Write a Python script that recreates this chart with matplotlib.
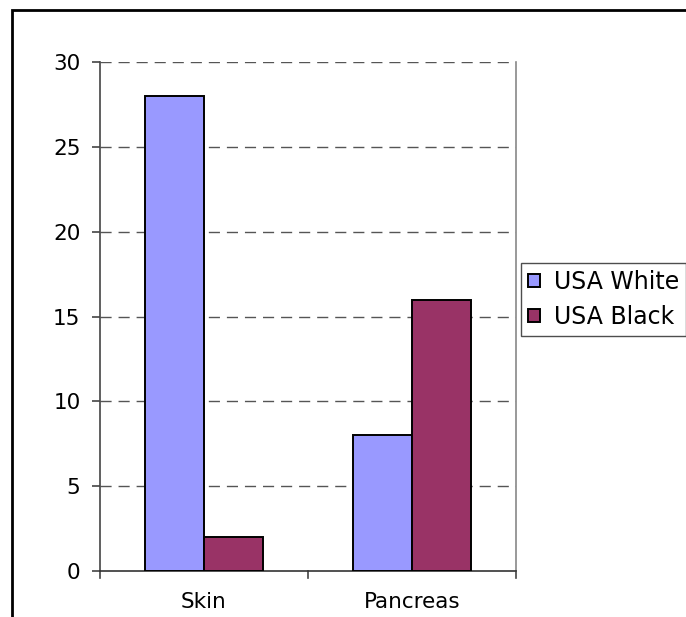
import matplotlib
matplotlib.use("Agg")
import matplotlib.pyplot as plt
from matplotlib.patches import Rectangle
import numpy as np

categories = ["Skin", "Pancreas"]
series_names = ["USA White", "USA Black"]
usa_white = [28, 8]
usa_black = [2, 16]
colors = ["#9999FF", "#993366"]
y_ticks = [0, 5, 10, 15, 20, 25, 30]

plt.rcParams["font.family"] = ["DejaVu Sans"]
FS = 15.5

W, H = 686, 617
fig = plt.figure(figsize=(W / 100, H / 100), dpi=100)
ax = fig.add_axes([100 / W, 1 - 571 / H, 416 / W, 509 / H])

x = np.arange(len(categories))
bw = 0.284
for i, (vals, name) in enumerate(zip([usa_white, usa_black], series_names)):
    ax.bar(x + (i - 0.5) * bw, vals, width=bw, color=colors[i],
           edgecolor="black", linewidth=1.4, label=name, zorder=3)

ax.set_xlim(-0.5, len(categories) - 0.5)
ax.set_ylim(0, 30)
ax.set_yticks(y_ticks)
ax.set_yticklabels([str(t) for t in y_ticks], fontsize=FS)
for t in y_ticks[1:]:
    ax.axhline(t, color="#555555", linewidth=1, linestyle=(0, (8, 5)), zorder=1)

# category labels centred, ticks between categories
ax.set_xticks(x)
ax.set_xticklabels(categories, fontsize=FS)
ax.tick_params(axis="x", length=0, pad=15)
tick_len = 7 / 509
for b in np.arange(-0.5, len(categories)):
    ax.plot([b, b], [0, -tick_len], transform=ax.get_xaxis_transform(),
            color="#444444", linewidth=1.2, clip_on=False)
ax.tick_params(axis="y", length=6, width=1.2, color="#444444", pad=8)

ax.spines["top"].set_visible(False)
ax.spines["right"].set_color("#888888")
ax.spines["left"].set_color("#444444")
ax.spines["bottom"].set_color("#333333")
for side in ["left", "bottom", "right"]:
    ax.spines[side].set_linewidth(1.2)

leg = fig.legend(loc="upper left", bbox_to_anchor=(521 / W, 1 - 263 / H),
                 fontsize=FS + 1.5, frameon=True, fancybox=False, edgecolor="#222222",
                 handlelength=0.5, handleheight=0.5, handletextpad=0.6,
                 borderpad=0.3, labelspacing=0.45, borderaxespad=0)
leg.get_frame().set_linewidth(1)

# outer chart-area border
fig.add_artist(Rectangle((12 / W, -0.1), 1.2, 1 - 10 / H + 0.1,
                         transform=fig.transFigure, fill=False,
                         edgecolor="black", linewidth=2))

fig.savefig("out.png", dpi=100)
